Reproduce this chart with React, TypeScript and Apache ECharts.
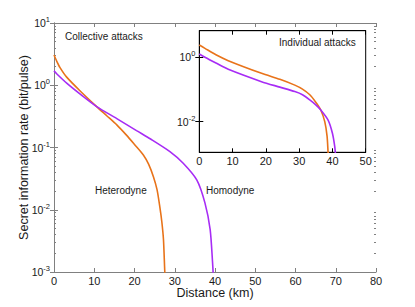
import React, { useEffect, useRef } from "react";
import * as echarts from "echarts";

// Main plot: collective attacks
const mainHeteroDist = [0, 0.66, 1.5, 3.15, 6.5, 10.6, 13.1, 15.6, 18, 20, 22.2, 23.5, 24.7, 25.6, 26.3, 26.8, 27.2, 27.5, 27.6];
const mainHeteroRate = [3.06, 2.45, 1.92, 1.35, 0.81, 0.454, 0.324, 0.231, 0.158, 0.112, 0.076, 0.054, 0.034, 0.021, 0.011, 0.0063, 0.0033, 0.0011, 0.0008];
const mainHomoDist = [0, 0.66, 3.15, 7.3, 10.6, 15.6, 20.5, 24, 28.8, 32.1, 35.5, 37.5, 38.8, 39.4, 39.6];
const mainHomoRate = [1.7, 1.53, 1.08, 0.656, 0.454, 0.291, 0.187, 0.137, 0.086, 0.056, 0.03, 0.0129, 0.0048, 0.0014, 0.0008];

// Inset: individual attacks
const insetHeteroDist = [0, 1.7, 5, 8.7, 18.7, 24.2, 28.7, 31, 33.2, 35, 36.5, 37.7, 38.4, 38.7, 38.8];
const insetHeteroRate = [2.35, 1.85, 1.17, 0.77, 0.313, 0.204, 0.135, 0.102, 0.068, 0.04, 0.023, 0.01, 0.0035, 0.0011, 0.0008];
const insetHomoDist = [0, 1.7, 5, 8.7, 18.7, 24.2, 28.7, 31, 33.2, 35, 36.5, 38.7, 40.0, 40.7, 41.0];
const insetHomoRate = [1.24, 0.98, 0.65, 0.417, 0.173, 0.117, 0.085, 0.068, 0.047, 0.033, 0.023, 0.0112, 0.0044, 0.0017, 0.0008];

const mainMinorTicks = [0.002, 0.003, 0.004, 0.005, 0.006, 0.007, 0.008, 0.009, 0.02, 0.03, 0.04, 0.05, 0.06, 0.07, 0.08, 0.09, 0.2, 0.3, 0.4, 0.5, 0.6, 0.7, 0.8, 0.9, 2, 3, 4, 5, 6, 7, 8, 9];
const insetMajorTicks = [0.01, 1];

const ORANGE = "#e8731a";
const PURPLE = "#a72cf5";
const GRAY = "#808080";
const FONT = "Liberation Sans";
const TEXT = "#1a1a1a";

const pairs = (xs: number[], ys: number[]) => xs.map((x, i) => [x, ys[i]]);

const powLabel = (v: number) => {
  const e = Math.round(Math.log10(v));
  return `{b|10}{s|${e}}`;
};
const rich = {
  b: { fontSize: 10.5, fontFamily: FONT, color: TEXT },
  s: { fontSize: 7.5, fontFamily: FONT, color: TEXT, padding: [0, 0, 7, 0] },
};

export default function App() {
  const ref = useRef<HTMLDivElement>(null);
  useEffect(() => {
    if (!ref.current) return;
    const chart = echarts.init(ref.current, null, { renderer: "svg" });
    const xBase = (grid: number, pos: string, min: number, max: number, color: string, labels: boolean) => ({
      type: "value",
      gridIndex: grid,
      position: pos,
      min,
      max,
      interval: 10,
      axisLine: { show: true, onZero: false, lineStyle: { color, width: 1 } },
      axisTick: { show: true, inside: true, length: 4, lineStyle: { color } },
      axisLabel: { show: labels, margin: 3, fontSize: 11, fontFamily: FONT, color: TEXT },
      splitLine: { show: false },
    });
    const line = (name: string, xi: number, yi: number, xs: number[], ys: number[], color: string) => ({
      type: "line",
      name,
      xAxisIndex: xi,
      yAxisIndex: yi,
      data: pairs(xs, ys),
      smooth: 0.25,
      showSymbol: false,
      clip: true,
      lineStyle: { color, width: 1.6 },
      itemStyle: { color },
    });
    const option: any = {
      animation: false,
      backgroundColor: "#ffffff",
      grid: [
        { left: 54, top: 23, width: 322, height: 249, show: false },
        { left: 199.3, top: 30.7, width: 166.4, height: 121.6, show: true, backgroundColor: "#ffffff", borderColor: "#000", borderWidth: 1 },
      ],
      xAxis: [
        {
          ...xBase(0, "bottom", 0, 80, GRAY, true),
          name: "Distance (km)",
          nameLocation: "middle",
          nameGap: 14,
          nameMoveOverlap: false,
          nameTextStyle: { fontSize: 12.5, fontFamily: FONT, color: TEXT },
        },
        xBase(0, "top", 0, 80, GRAY, false),
        xBase(1, "bottom", 0, 50, "#000", true),
        xBase(1, "top", 0, 50, "#000", false),
      ],
      yAxis: [
        {
          type: "log",
          logBase: 10,
          gridIndex: 0,
          position: "left",
          min: 0.001,
          max: 10,
          name: "Secret information rate (bit/pulse)",
          nameLocation: "middle",
          nameGap: 24,
          nameMoveOverlap: false,
          nameTextStyle: { fontSize: 12.5, fontFamily: FONT, color: TEXT },
          axisLine: { show: true, lineStyle: { color: GRAY } },
          axisTick: { show: true, inside: true, length: 4, lineStyle: { color: GRAY } },
          axisLabel: { margin: 4, formatter: powLabel, rich },
          splitLine: { show: false },
        },
        {
          type: "log",
          logBase: 10,
          gridIndex: 0,
          position: "right",
          min: 0.001,
          max: 10,
          axisLine: { show: true, lineStyle: { color: GRAY } },
          axisTick: { show: true, inside: true, length: 4, lineStyle: { color: GRAY } },
          axisLabel: { show: false },
          splitLine: { show: false },
        },
        {
          type: "log",
          logBase: 10,
          gridIndex: 0,
          position: "left",
          min: 0.001,
          max: 10,
          axisLine: { show: false },
          axisTick: { show: true, inside: true, length: 2, customValues: mainMinorTicks, lineStyle: { color: GRAY } },
          axisLabel: { show: false },
          splitLine: { show: false },
        },
        {
          type: "log",
          logBase: 10,
          gridIndex: 0,
          position: "right",
          min: 0.001,
          max: 10,
          axisLine: { show: false },
          axisTick: { show: true, inside: true, length: 2, customValues: mainMinorTicks, lineStyle: { color: GRAY } },
          axisLabel: { show: false },
          splitLine: { show: false },
        },
        {
          type: "log",
          logBase: 10,
          gridIndex: 1,
          position: "left",
          min: 0.00113,
          max: 6.5,
          axisLine: { show: true, lineStyle: { color: "#000" } },
          axisTick: { show: true, inside: true, length: 4, customValues: insetMajorTicks, lineStyle: { color: "#000" } },
          axisLabel: { margin: 4, formatter: powLabel, rich, customValues: insetMajorTicks },
          splitLine: { show: false },
        },
        {
          type: "log",
          logBase: 10,
          gridIndex: 1,
          position: "right",
          min: 0.00113,
          max: 6.5,
          axisLine: { show: true, lineStyle: { color: "#000" } },
          axisTick: { show: true, inside: true, length: 4, customValues: insetMajorTicks, lineStyle: { color: "#000" } },
          axisLabel: { show: false },
          splitLine: { show: false },
        },
      ],
      series: [
        line("Heterodyne", 0, 0, mainHeteroDist, mainHeteroRate, ORANGE),
        line("Homodyne", 0, 0, mainHomoDist, mainHomoRate, PURPLE),
        line("Heterodyne (individual)", 2, 4, insetHeteroDist, insetHeteroRate, ORANGE),
        line("Homodyne (individual)", 2, 4, insetHomoDist, insetHomoRate, PURPLE),
      ],
      graphic: [
        { type: "text", left: 65, top: 31, style: { text: "Collective attacks", fontSize: 10, fontFamily: FONT, fill: TEXT } },
        { type: "text", left: 279, top: 37, style: { text: "Individual attacks", fontSize: 10, fontFamily: FONT, fill: TEXT } },
        { type: "text", left: 95, top: 185, style: { text: "Heterodyne", fontSize: 10, fontFamily: FONT, fill: TEXT } },
        { type: "text", left: 206, top: 185, style: { text: "Homodyne", fontSize: 10, fontFamily: FONT, fill: TEXT } },
      ],
    };
    chart.setOption(option);
    return () => chart.dispose();
  }, []);
  return <div ref={ref} style={{ position: "absolute", left: 0, top: 0, width: 415, height: 307, background: "#fff" }} />;
}
